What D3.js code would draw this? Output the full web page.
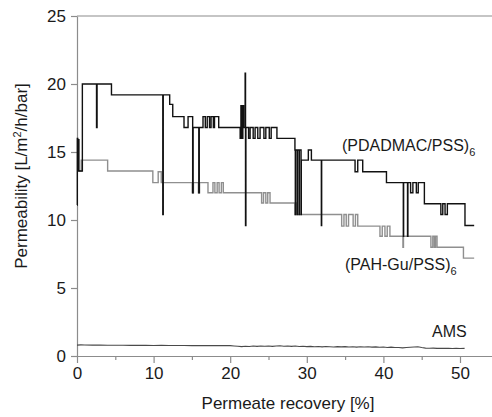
<!DOCTYPE html>
<html>
<head>
<meta charset="utf-8">
<script src="https://cdn.jsdelivr.net/npm/d3@7"></script>
<style>
  body{margin:0;background:#fff;}
  svg{display:block;font-family:"Liberation Sans",Arial,sans-serif;}
</style>
</head>
<body>
<svg></svg>
<script>
// PDADMAC/PSS, step data [recovery %, permeability]
var pdadmac = [
  [0,11.1],[0.04,16.0],[0.1,13.6],[0.18,15.9],[0.25,13.6],[0.7,20.0],
  [2.55,16.8],[2.62,20.0],[4.5,19.2],[11.2,10.4],[11.26,19.2],[12.1,18.5],
  [12.5,17.6],[13.97,16.8],[14.5,17.6],[15.1,12.0],[15.16,16.8],[15.9,12.0],
  [15.96,16.8],[16.45,17.6],[16.75,16.8],[17.0,17.6],[17.3,16.8],[17.5,17.6],
  [17.8,16.8],[17.95,17.6],[18.5,16.8],[21.3,16.0],[21.4,18.4],[21.5,16.0],
  [21.65,18.4],[21.75,16.8],[21.95,20.8],[22.0,9.6],[22.05,16.8],[22.4,16.0],
  [22.6,16.8],[23.0,16.0],[23.25,16.8],[23.6,16.0],[23.9,16.8],[24.4,16.0],
  [24.65,16.8],[25.1,16.0],[25.35,16.8],[26.1,16.0],[28.45,15.15],[28.5,10.4],
  [28.53,15.15],[28.75,10.4],[28.78,15.15],[29.0,10.4],[29.03,15.15],[29.25,10.4],
  [29.28,14.4],[30.2,15.15],[30.6,14.4],[31.9,9.6],[31.94,14.4],[36.3,13.55],
  [36.65,14.4],[37.3,13.55],[40.4,12.75],[42.6,8.8],[42.64,12.75],[43.15,8.8],
  [43.2,12.75],[43.55,12.0],[43.85,12.75],[44.3,12.0],[44.55,12.75],[45.35,11.2],
  [47.5,10.4],[47.75,11.2],[48.05,10.4],[48.35,11.2],[50.65,9.6],[51.85,9.6]
];

// PAH-Gu/PSS
var pahgu = [
  [0.2,13.6],[0.55,14.4],[4.0,13.6],[9.9,12.75],[10.6,13.55],[11.0,12.75],
  [15.05,12.0],[15.2,12.75],[15.85,12.0],[16.0,12.75],[17.1,12.0],[17.75,12.75],
  [18.0,12.0],[18.3,12.75],[18.55,12.0],[18.85,12.75],[19.1,12.0],[24.1,11.25],
  [24.35,12.0],[24.65,11.25],[24.9,12.0],[25.2,11.25],[28.45,10.4],[28.6,11.25],
  [28.75,10.4],[34.55,9.55],[34.85,10.4],[35.15,9.55],[35.45,10.4],[36.05,9.55],
  [36.35,10.4],[36.65,9.55],[39.55,8.8],[39.85,9.55],[40.2,8.8],[40.5,9.55],
  [40.85,8.8],[42.55,8.0],[42.62,8.8],[46.2,8.0],[46.45,8.8],[46.65,8.0],
  [46.8,8.8],[47.0,8.0],[50.45,7.2],[51.85,7.2]
];

// AMS
var ams = [
  [0,0.80],[0.5,0.82],[1,0.81],[2,0.80],[3,0.80],[4,0.79],[5,0.79],[6,0.79],
  [7,0.78],[8,0.78],[9,0.78],[10,0.77],[11,0.78],[12,0.77],[13,0.77],[14,0.77],
  [15,0.76],[16,0.76],[17,0.77],[18,0.76],[19,0.77],[20,0.76],[20.5,0.74],[21,0.72],
  [21.5,0.69],[22,0.72],[22.5,0.70],[23,0.73],[23.5,0.71],[24,0.74],[24.5,0.72],
  [25,0.73],[25.5,0.71],[26,0.74],[26.5,0.75],[27,0.72],[27.5,0.74],[28,0.71],
  [28.5,0.73],[29,0.70],[29.5,0.72],[30,0.69],[30.5,0.71],[31,0.68],[31.5,0.70],
  [32,0.67],[32.5,0.70],[33,0.68],[33.5,0.66],[34,0.69],[34.5,0.67],[35,0.69],
  [35.5,0.66],[36,0.68],[36.5,0.65],[37,0.68],[37.5,0.66],[38,0.68],[38.5,0.65],
  [39,0.67],[39.5,0.64],[40,0.66],[40.5,0.63],[41,0.65],[41.5,0.62],[42,0.62],
  [42.5,0.60],[43,0.62],[43.5,0.64],[44,0.66],[44.5,0.68],[45,0.62],[45.5,0.58],
  [46,0.57],[46.5,0.58],[47,0.56],[47.5,0.57],[48,0.56],[48.5,0.57],[49,0.55],
  [49.5,0.56],[50,0.55],[50.6,0.56]
];

var xTicks = [0,10,20,30,40,50];
var xMinor = [5,15,25,35,45];
var yTicks = [0,5,10,15,20,25];

function makeChart(){
  var width = 492, height = 417;
  var margin = {top:16, bot:61, left:77};
  var svg = d3.select("svg").attr("width",width).attr("height",height);

  var xScale = d3.scaleLinear().domain([0,55]).range([margin.left, margin.left+7.66*55]);
  var yScale = d3.scaleLinear().domain([0,25]).range([height-margin.bot, margin.top]);

  var axisColor = "#8c8c8c";

  // top frame
  svg.append("line")
     .attr("x1",xScale(0)).attr("x2",width)
     .attr("y1",yScale(25)).attr("y2",yScale(25))
     .attr("stroke",axisColor).attr("stroke-width",1.2);

  var xAxis = d3.axisBottom(xScale).tickValues(xTicks).tickSize(7).tickSizeOuter(0).tickPadding(4);
  var gx = svg.append("g")
     .attr("transform","translate(0,"+yScale(0)+")")
     .call(xAxis);
  var xMinorAxis = d3.axisBottom(xScale).tickValues(xMinor).tickSize(4).tickSizeOuter(0).tickFormat("");
  var gxm = svg.append("g")
     .attr("transform","translate(0,"+yScale(0)+")")
     .call(xMinorAxis);
  gxm.select(".domain").remove();

  var yAxis = d3.axisLeft(yScale).tickValues(yTicks).tickSize(6).tickSizeOuter(0).tickPadding(5);
  var gy = svg.append("g")
     .attr("transform","translate("+xScale(0)+",0)")
     .call(yAxis);

  [gx,gxm,gy].forEach(function(g){
    g.selectAll("path,line").attr("stroke",axisColor).attr("stroke-width",1.2);
    g.selectAll("text").attr("fill","#1a1a1a").style("font-size","17px")
     .style("font-family","'Liberation Sans',Arial,sans-serif");
  });

  var stepLine = d3.line()
    .x(function(d){return xScale(d[0]);})
    .y(function(d){return yScale(d[1]);})
    .curve(d3.curveStepAfter);
  var plainLine = d3.line()
    .x(function(d){return xScale(d[0]);})
    .y(function(d){return yScale(d[1]);});

  svg.append("path").attr("d",plainLine(ams))
     .attr("fill","none").attr("stroke","#4a4a4a").attr("stroke-width",1.1);
  svg.append("path").attr("d",stepLine(pahgu))
     .attr("fill","none").attr("stroke","#8f8f8f").attr("stroke-width",1.4);
  svg.append("path").attr("d",stepLine(pdadmac))
     .attr("fill","none").attr("stroke","#111").attr("stroke-width",1.4);

  // series labels
  function seriesLabel(x,y,main,sub){
    var t = svg.append("text").attr("x",x).attr("y",y)
       .attr("fill","#1a1a1a").style("font-size","16px");
    t.append("tspan").text(main);
    if(sub){
      t.append("tspan").attr("dy",5).style("font-size","11px").text(sub);
    }
  }
  seriesLabel(342,151,"(PDADMAC/PSS)","6");
  seriesLabel(345,270,"(PAH-Gu/PSS)","6");
  seriesLabel(432,337,"AMS",null);

  // axis titles
  svg.append("text")
     .attr("x",288).attr("y",409)
     .attr("text-anchor","middle")
     .attr("fill","#1a1a1a").style("font-size","17px")
     .text("Permeate recovery [%]");

  var yt = svg.append("text")
     .attr("transform","translate(27,176) rotate(-90)")
     .attr("text-anchor","middle")
     .attr("fill","#1a1a1a").style("font-size","17px");
  yt.append("tspan").text("Permeability [L/m");
  yt.append("tspan").attr("dy",-6).style("font-size","11px").text("2");
  yt.append("tspan").attr("dy",6).text("/h/bar]");
}

makeChart();
</script>
</body>
</html>
